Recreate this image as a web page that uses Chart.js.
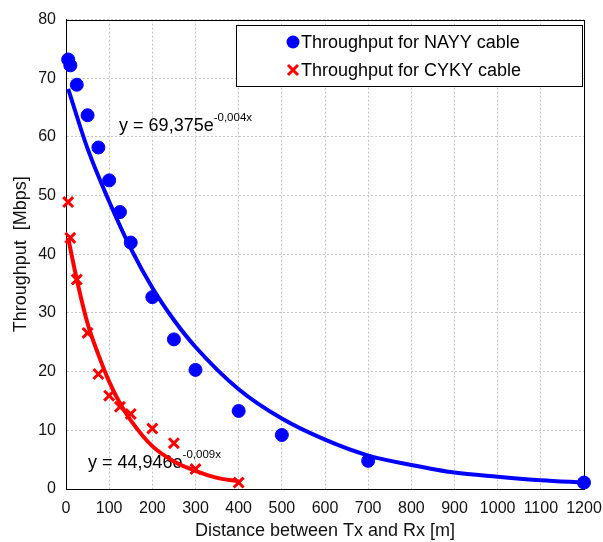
<!DOCTYPE html>
<html>
<head>
<meta charset="utf-8">
<script src="https://cdn.jsdelivr.net/npm/chart.js@4.4.1/dist/chart.umd.min.js"></script>
<style>
  html, body { margin: 0; padding: 0; background: #fff; }
</style>
</head>
<body>
<canvas id="myChart" width="603" height="542"></canvas>
<script>
// measured points
var nayyDist = [5, 10, 25, 50, 75, 100, 125, 150, 200, 250, 300, 400, 500, 700, 1200];
var nayyTput = [73.2, 72.2, 68.9, 63.7, 58.2, 52.6, 47.2, 42.0, 32.7, 25.5, 20.3, 13.3, 9.2, 4.8, 1.1];
var cykyDist = [5, 10, 25, 50, 75, 100, 125, 150, 200, 250, 300, 400];
var cykyTput = [48.9, 42.8, 35.7, 26.6, 19.6, 15.9, 14.0, 12.8, 10.3, 7.8, 3.4, 1.1];

// trend lines
var nayyTrendX = [5, 50, 100, 150, 200, 250, 300, 400, 500, 600, 700, 800, 900, 1000, 1100, 1200];
var nayyTrendY = [68.2, 58.0, 49.0, 41.0, 34.3, 28.8, 24.2, 17.0, 12.0, 8.4, 5.7, 4.1, 2.8, 2.1, 1.5, 1.1];
var cykyTrendX = [5, 25, 50, 75, 100, 125, 150, 200, 250, 300, 350, 400];
var cykyTrendY = [42.8, 35.7, 28.2, 22.9, 18.3, 14.6, 11.7, 7.3, 4.7, 3.1, 1.9, 1.3];

var seriesLabels = ['Throughput for NAYY cable', 'Throughput for CYKY cable'];
var equations = [
  { base: 'y = 69,375e', exp: '-0,004x', x: 123, y: 61.0, color: '#000' },
  { base: 'y = 44,946e', exp: '-0,009x', x: 51, y: 3.6, color: '#000' }
];
var xTicks = { min: 0, max: 1200, step: 100 };
var yTicks = { min: 0, max: 80, step: 10 };

var blue = '#0000ff';
var red = '#ff0000';
var fontFamily = '"Liberation Sans", Arial, sans-serif';

function toPoints(xs, ys) {
  return xs.map((x, i) => ({ x: x, y: ys[i] }));
}

// box around plot, equations and the legend
var extras = {
  id: 'extras',
  beforeDatasetsDraw(chart) {
    var ctx = chart.ctx;
    var a = chart.chartArea;
    var sx = chart.scales.x, sy = chart.scales.y;
    ctx.save();
    ctx.strokeStyle = '#000';
    ctx.lineWidth = 1;
    ctx.strokeRect(Math.round(a.left) + 0.5, Math.round(a.top) + 0.5,
      Math.round(a.right - a.left), Math.round(a.bottom - a.top));

    ctx.textBaseline = 'alphabetic';
    ctx.textAlign = 'left';
    equations.forEach(eq => {
      var px = sx.getPixelForValue(eq.x);
      var py = sy.getPixelForValue(eq.y);
      ctx.fillStyle = eq.color;
      ctx.font = '18px ' + fontFamily;
      ctx.fillText(eq.base, px, py);
      var w = ctx.measureText(eq.base).width;
      ctx.font = '11.5px ' + fontFamily;
      ctx.fillText(eq.exp, px + w, py - 10);
    });
    ctx.restore();
  },
  afterDatasetsDraw(chart) {
    var ctx = chart.ctx;
    var a = chart.chartArea;
    var left = 236.5, top = 25.5, right = a.right - 1.5, bottom = 86.5;
    ctx.save();
    ctx.fillStyle = '#fff';
    ctx.fillRect(left, top, right - left, bottom - top);
    ctx.strokeStyle = '#000';
    ctx.lineWidth = 1;
    ctx.strokeRect(left, top, right - left, bottom - top);

    var mx = 293;
    var rows = [42, 70];
    // circle marker
    ctx.fillStyle = blue;
    ctx.beginPath();
    ctx.arc(mx, rows[0], 6.5, 0, Math.PI * 2);
    ctx.fill();
    // cross marker
    ctx.strokeStyle = red;
    ctx.lineWidth = 3;
    ctx.beginPath();
    ctx.moveTo(mx - 5, rows[1] - 5); ctx.lineTo(mx + 5, rows[1] + 5);
    ctx.moveTo(mx + 5, rows[1] - 5); ctx.lineTo(mx - 5, rows[1] + 5);
    ctx.stroke();

    ctx.fillStyle = '#000';
    ctx.font = '18px ' + fontFamily;
    ctx.textBaseline = 'middle';
    ctx.fillText(seriesLabels[0], 301, rows[0] + 1);
    ctx.fillText(seriesLabels[1], 301, rows[1] + 1);
    ctx.restore();
  }
};

var ctx = document.getElementById('myChart').getContext('2d');
var chart = new Chart(ctx, {
  type: 'scatter',
  data: {
    datasets: [
      {
        label: seriesLabels[0],
        data: toPoints(nayyDist, nayyTput),
        pointStyle: 'circle',
        pointRadius: 6.5,
        pointBackgroundColor: blue,
        pointBorderColor: blue,
        pointBorderWidth: 1,
        showLine: false,
        clip: false
      },
      {
        label: seriesLabels[1],
        data: toPoints(cykyDist, cykyTput),
        pointStyle: 'crossRot',
        pointRadius: 7,
        pointBorderColor: red,
        pointBorderWidth: 3,
        showLine: false,
        clip: false
      },
      {
        label: 'trend NAYY',
        data: toPoints(nayyTrendX, nayyTrendY),
        showLine: true,
        borderColor: blue,
        borderWidth: 4,
        pointRadius: 0,
        cubicInterpolationMode: 'monotone',
        clip: false
      },
      {
        label: 'trend CYKY',
        data: toPoints(cykyTrendX, cykyTrendY),
        showLine: true,
        borderColor: red,
        borderWidth: 4,
        pointRadius: 0,
        cubicInterpolationMode: 'monotone',
        clip: false
      }
    ]
  },
  options: {
    responsive: false,
    animation: false,
    layout: { padding: { left: 0, right: 19, top: 19, bottom: 0 } },
    plugins: {
      legend: { display: false },
      tooltip: { enabled: false }
    },
    scales: {
      x: {
        type: 'linear',
        min: xTicks.min,
        max: xTicks.max,
        afterFit(scale) { scale.height = 53; scale.paddingRight = 0; },
        ticks: {
          stepSize: xTicks.step,
          autoSkip: false,
          maxRotation: 0,
          padding: 10,
          color: '#111',
          font: { family: fontFamily, size: 16 },
          callback: v => String(v)
        },
        grid: { color: '#c4c4c4', lineWidth: 1, drawTicks: false },
        border: { display: true, color: '#000', width: 1, dash: [2, 2] },
        title: {
          display: true,
          text: 'Distance between Tx and Rx [m]',
          color: '#111',
          font: { family: fontFamily, size: 18 },
          padding: { top: 0, bottom: 0 }
        }
      },
      y: {
        type: 'linear',
        min: yTicks.min,
        max: yTicks.max,
        afterFit(scale) { scale.width = 66; },
        ticks: {
          stepSize: yTicks.step,
          padding: 10,
          color: '#111',
          font: { family: fontFamily, size: 16 }
        },
        grid: { color: '#c4c4c4', lineWidth: 1, drawTicks: false },
        border: { display: true, color: '#000', width: 1, dash: [2, 2] },
        title: {
          display: true,
          text: 'Throughput  [Mbps]',
          color: '#111',
          font: { family: fontFamily, size: 18 },
          padding: { top: 10, bottom: 0 }
        }
      }
    }
  },
  plugins: [extras]
});
</script>
</body>
</html>
